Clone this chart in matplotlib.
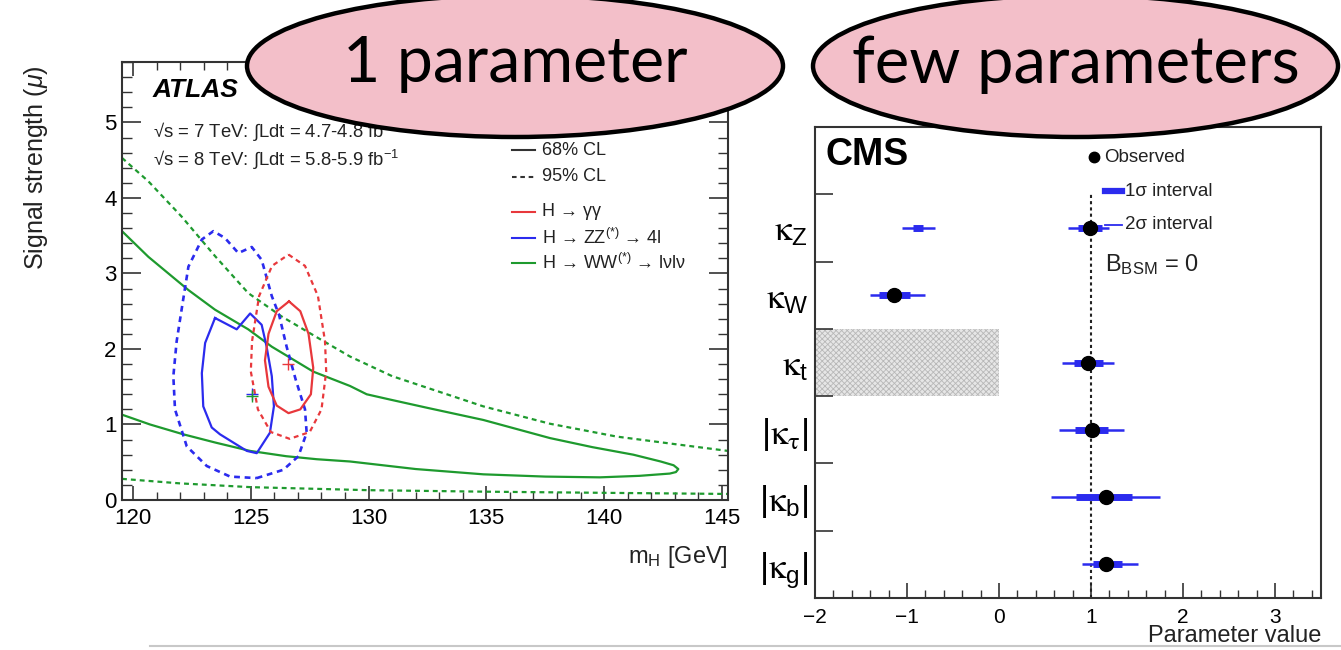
import matplotlib
matplotlib.use('Agg')
import matplotlib.pyplot as plt
from matplotlib.patches import Ellipse, Rectangle
from matplotlib.ticker import MultipleLocator
from matplotlib.lines import Line2D

plt.rcParams['font.family'] = ['Liberation Sans', 'DejaVu Sans']
plt.rcParams['mathtext.fontset'] = 'custom'
plt.rcParams['mathtext.rm'] = 'Liberation Sans'
plt.rcParams['mathtext.it'] = 'Liberation Sans:italic'
plt.rcParams['mathtext.bf'] = 'Liberation Sans:bold'
plt.rcParams['mathtext.sf'] = 'STIXGeneral'
plt.rcParams['hatch.linewidth'] = 0.6

# ---------------- data: ATLAS contours (mH [GeV], mu) ----------------
ww68_m = [119.53, 120.65, 122.35, 123.48, 124.89, 125.89, 127.65, 129.21, 129.92, 130.91, 132.5, 134.87,
          137.70, 139.5, 141.24, 142.4, 142.95, 143.15, 143.05, 142.79, 141.5, 139.82, 137.5, 134.87,
          132.0, 129.21, 127.80, 126.5, 124.97, 123.5, 122.13, 120.72, 119.53]
ww68_mu = [3.56, 3.22, 2.78, 2.52, 2.26, 2.03, 1.70, 1.51, 1.40, 1.33, 1.22, 1.06,
           0.82, 0.70, 0.60, 0.51, 0.46, 0.41, 0.37, 0.35, 0.32, 0.30, 0.31, 0.34,
           0.41, 0.51, 0.54, 0.58, 0.65, 0.76, 0.87, 1.00, 1.13]
ww95u_m = [119.53, 120.65, 122.07, 123.48, 124.89, 126.31, 127.72, 129.21, 131.0, 134.87, 137.7, 140.53, 143.0, 145.26]
ww95u_mu = [4.53, 4.22, 3.75, 3.23, 2.74, 2.43, 2.17, 1.90, 1.64, 1.24, 1.01, 0.84, 0.74, 0.65]
ww95l_m = [119.53, 122.0, 125.0, 130.0, 135.0, 140.0, 145.26]
ww95l_mu = [0.28, 0.22, 0.17, 0.13, 0.11, 0.095, 0.08]

zz68_m = [123.48, 124.40, 124.97, 125.46, 125.67, 125.89, 125.98, 125.81, 125.25, 124.83, 123.69,
          123.34, 122.98, 122.92, 123.06, 123.48]
zz68_mu = [2.41, 2.26, 2.47, 2.32, 2.03, 1.64, 1.24, 0.89, 0.62, 0.65, 0.87, 0.96, 1.24, 1.68, 2.08, 2.41]
zz95_m = [125.25, 126.38, 127.02, 127.37, 127.30, 126.90, 126.52, 126.20, 125.89, 125.46, 125.04, 124.47,
          123.90, 123.41, 122.92, 122.35, 122.10, 121.85, 121.71, 121.78, 122.28, 123.13, 124.12, 125.25]
zz95_mu = [0.29, 0.40, 0.58, 0.89, 1.20, 1.60, 2.03, 2.45, 2.70, 3.18, 3.35, 3.27,
           3.47, 3.56, 3.45, 3.09, 2.60, 2.10, 1.64, 1.20, 0.71, 0.45, 0.31, 0.29]

gg68_m = [126.62, 127.10, 127.45, 127.65, 127.55, 127.10, 126.60, 126.10, 125.75, 125.60, 125.75, 126.10, 126.62]
gg68_mu = [2.63, 2.50, 2.20, 1.75, 1.40, 1.20, 1.15, 1.25, 1.50, 1.85, 2.20, 2.50, 2.63]
gg95_m = [126.60, 127.30, 127.85, 128.15, 128.20, 128.00, 127.50, 126.65, 125.85, 125.30, 125.00, 125.05,
          125.35, 125.90, 126.60]
gg95_mu = [3.25, 3.10, 2.70, 2.10, 1.70, 1.20, 0.90, 0.81, 0.90, 1.20, 1.70, 2.10, 2.70, 3.10, 3.25]

best_m = [126.59, 125.04, 125.04]     # gamma-gamma, ZZ, WW
best_mu = [1.80, 1.40, 1.38]

# ---------------- data: CMS coupling fit ----------------
kappa_labels = [r'$\mathsf{\kappa}_{\rm Z}$', r'$\mathsf{\kappa}_{\rm W}$', r'$\mathsf{\kappa}_{\rm t}$',
                r'$|\mathsf{\kappa}_{\mathsf{\tau}}|$', r'$|\mathsf{\kappa}_{\rm b}|$', r'$|\mathsf{\kappa}_{\rm g}|$']
kappa_obs = [0.99, -1.14, 0.97, 1.01, 1.16, 1.16]
kappa_1s_lo = [0.86, -1.30, 0.82, 0.83, 0.84, 1.02]
kappa_1s_hi = [1.12, -0.97, 1.13, 1.18, 1.45, 1.34]
kappa_2s_lo = [0.75, -1.40, 0.68, 0.65, 0.57, 0.90]
kappa_2s_hi = [1.20, -0.80, 1.25, 1.36, 1.75, 1.51]
# extra (negative) interval for kappa_Z
kz_neg_1s = [-0.93, -0.83]
kz_neg_2s = [-1.05, -0.70]

W, H = 1341, 650
fig = plt.figure(figsize=(W / 100, H / 100), dpi=100)

RED = '#e8383c'
BLUE = '#2b2bee'
GREEN = '#1e9a2e'
TXT = '#222222'
dash = (0, (2.2, 1.8))

# ================= left: ATLAS =================
axL = fig.add_axes([122 / W, 1 - 500 / H, 606 / W, 438 / H])
axL.plot(ww68_m, ww68_mu, color=GREEN, lw=1.6)
axL.plot(ww95u_m, ww95u_mu, color=GREEN, lw=1.6, ls=dash)
axL.plot(ww95l_m, ww95l_mu, color=GREEN, lw=1.6, ls=dash)
axL.plot(zz68_m, zz68_mu, color=BLUE, lw=1.6)
axL.plot(zz95_m, zz95_mu, color=BLUE, lw=1.9, ls=dash)
axL.plot(gg68_m, gg68_mu, color=RED, lw=1.6)
axL.plot(gg95_m, gg95_mu, color=RED, lw=1.6, ls=dash)
for mm, mu, c in zip(best_m, best_mu, [RED, BLUE, GREEN]):
    axL.plot([mm], [mu], marker='+', ms=9, mew=1.0, color=c, ls='none')

axL.set_xlim(119.53, 145.26)
axL.set_ylim(0, 5.8)
axL.xaxis.set_major_locator(MultipleLocator(5))
axL.xaxis.set_minor_locator(MultipleLocator(1))
axL.yaxis.set_major_locator(MultipleLocator(1))
axL.yaxis.set_minor_locator(MultipleLocator(0.2))
axL.tick_params(which='both', direction='in', top=True, right=True, colors='#333333',
                labelcolor='black', labelsize=16)
axL.tick_params(axis='y', which='major', length=14, width=1.2, pad=4)
axL.tick_params(axis='y', which='minor', length=7, width=1.0)
axL.tick_params(axis='x', which='major', length=10, width=1.2, pad=6)
axL.tick_params(axis='x', which='minor', length=5.5, width=1.0)
for s in axL.spines.values():
    s.set_linewidth(1.5)
    s.set_color('#333333')
axL.set_ylabel(r'Signal strength ($\mu$)', fontsize=18, loc='top', color=TXT)
axL.yaxis.set_label_coords(-0.118, 0.993)
axL.set_xlabel(r'm$_{\rm H}$ [GeV]', fontsize=17, loc='right', color=TXT)
axL.xaxis.set_label_coords(1.0, -0.1)

axL.text(0.051, 0.936, 'ATLAS', transform=axL.transAxes, fontsize=19, fontweight='bold',
         fontstyle='italic', va='center', ha='left', color='black')
axL.text(0.051, 0.840, r'√s = 7 TeV: ∫Ldt = 4.7-4.8 fb$^{-1}$', transform=axL.transAxes,
         fontsize=13.3, va='center', ha='left', color=TXT)
axL.text(0.051, 0.776, r'√s = 8 TeV: ∫Ldt = 5.8-5.9 fb$^{-1}$', transform=axL.transAxes,
         fontsize=13.3, va='center', ha='left', color=TXT)

leg_items = [('68% CL', '#333333', '-'), ('95% CL', '#333333', dash),
             (None, None, None),
             (r'H → γγ', RED, '-'),
             (r'H → ZZ$^{(*)}$ → 4l', BLUE, '-'),
             (r'H → WW$^{(*)}$ → lνlν', GREEN, '-')]
leg_y = [0.799, 0.738, None, 0.658, 0.598, 0.541]
for (lab, col, ls), yy in zip(leg_items, leg_y):
    if lab is None:
        continue
    axL.add_line(Line2D([0.644, 0.682], [yy, yy], transform=axL.transAxes, color=col, ls=ls, lw=1.5))
    axL.text(0.693, yy, lab, transform=axL.transAxes, fontsize=13, va='center', ha='left', color=TXT)

# ================= right: CMS =================
axR = fig.add_axes([815 / W, 1 - 598 / H, 506 / W, 471 / H])
n = len(kappa_labels)
ypos = [n - 0.5 - i for i in range(n)]
axR.add_patch(Rectangle((-2, 3), 2, 1, facecolor='#e6e6e6', edgecolor='#b8b8b8', hatch='xxxxxx', lw=0))
axR.plot([1, 1], [0, 6], color='#222222', ls=(0, (1.5, 1.5)), lw=1.5, zorder=2)
axR.hlines(ypos, kappa_2s_lo, kappa_2s_hi, color=BLUE, lw=1.8, zorder=3)
axR.hlines(ypos, kappa_1s_lo, kappa_1s_hi, color=BLUE, lw=5, zorder=4)
axR.hlines([ypos[0]], [kz_neg_2s[0]], [kz_neg_2s[1]], color=BLUE, lw=1.8, zorder=3)
axR.hlines([ypos[0]], [kz_neg_1s[0]], [kz_neg_1s[1]], color=BLUE, lw=5, zorder=4)
axR.plot(kappa_obs, ypos, 'o', color='black', ms=10, zorder=5)

axR.set_xlim(-2, 3.5)
axR.set_ylim(0, n + 1)
axR.xaxis.set_major_locator(MultipleLocator(1))
axR.xaxis.set_minor_locator(MultipleLocator(0.2))
axR.set_yticks(range(1, n + 1))
axR.set_yticklabels([])
axR.set_yticks(ypos, minor=True)
axR.set_yticklabels(kappa_labels, minor=True, fontsize=25)
axR.tick_params(axis='y', which='major', direction='in', length=13, width=1.2, colors='#333333')
axR.tick_params(axis='y', which='minor', length=0, pad=5, labelcolor='black')
axR.tick_params(axis='x', which='major', direction='in', length=11, width=1.2, pad=7,
                labelsize=15, colors='#333333', labelcolor='black')
axR.tick_params(axis='x', which='minor', direction='in', length=5.5, width=1.0, colors='#333333')
for s in axR.spines.values():
    s.set_linewidth(1.5)
    s.set_color('#333333')
axR.set_xlabel('Parameter value', fontsize=17, loc='right', color=TXT)
axR.xaxis.set_label_coords(1.0, -0.058)

axR.text(0.02, 0.94, 'CMS', transform=axR.transAxes, fontsize=27, fontweight='bold',
         va='center', ha='left', color='black')
axR.plot([0.551], [0.936], 'o', color='black', ms=7.5, transform=axR.transAxes, clip_on=False)
axR.text(0.572, 0.936, 'Observed', transform=axR.transAxes, fontsize=13.5, va='center', ha='left', color=TXT)
axR.add_line(Line2D([0.573, 0.607], [0.864, 0.864], transform=axR.transAxes, color=BLUE, lw=4.5))
axR.text(0.612, 0.864, '1σ interval', transform=axR.transAxes, fontsize=13.5, va='center', ha='left', color=TXT)
axR.add_line(Line2D([0.573, 0.607], [0.792, 0.792], transform=axR.transAxes, color=BLUE, lw=1.3))
axR.text(0.612, 0.792, '2σ interval', transform=axR.transAxes, fontsize=13.5, va='center', ha='left', color=TXT)
axR.text(0.573, 0.707, r'B$_{\rm BSM}$ = 0', transform=axR.transAxes, fontsize=17, va='center', ha='left', color=TXT)

# ================= overlay bubbles =================
bubbles = [((515, 66), 536, 142, '1 parameter', 345),
           ((1075.5, 66), 525, 142, 'few parameters', 448)]
for (cx, cy), w, h, label, tw in bubbles:
    e = Ellipse((cx / W, 1 - cy / H), w / W, h / H, transform=fig.transFigure,
                facecolor='#f3bfc9', edgecolor='black', lw=3.2, zorder=20)
    fig.add_artist(e)
    t = fig.text(cx / W, 1 - (cy - 2) / H, label, fontsize=44, family='Lato', ha='center',
                 va='center', color='black', zorder=21)
    fig.canvas.draw()
    bb = t.get_window_extent(fig.canvas.get_renderer())
    t.set_fontsize(44 * tw / bb.width)

# faint slide line at the bottom
fig.add_artist(Line2D([150 / W, 1.0], [1 - 646 / H, 1 - 646 / H], transform=fig.transFigure,
                      color='#c8c8c8', lw=1.5, zorder=0))

fig.savefig('out.png', dpi=100)
